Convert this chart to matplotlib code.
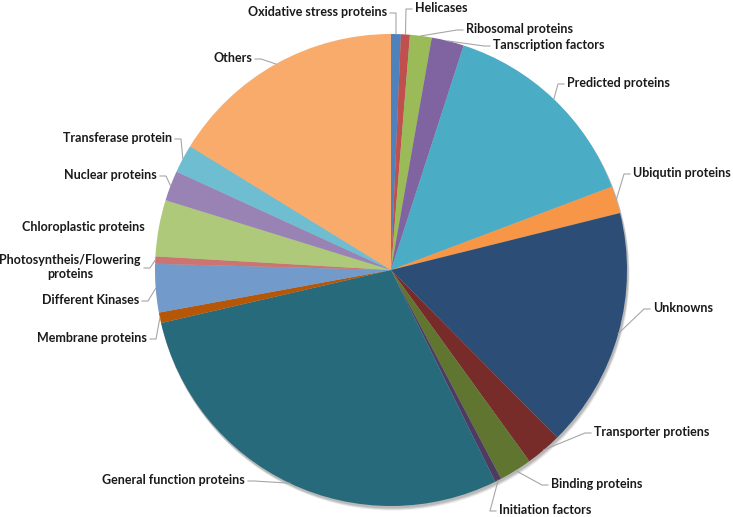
import numpy as np
import matplotlib
matplotlib.use('Agg')
import matplotlib.pyplot as plt
from matplotlib.patches import Circle

# === Данные (доли в %, по часовой стрелке от 12 часов) ===

categories = ['Oxidative stress proteins', 'Helicases', 'Ribosomal proteins',
              'Tanscription factors', 'Predicted proteins', 'Ubiqutin proteins',
              'Unknowns', 'Transporter protiens', 'Binding proteins',
              'Initiation factors', 'General function proteins', 'Membrane proteins',
              'Different Kinases', 'Photosyntheis/Flowering\nproteins',
              'Chloroplastic proteins', 'Nuclear proteins', 'Transferase protein',
              'Others']
values = [0.67, 0.61, 1.49, 2.21, 14.28, 1.86, 16.44, 2.47, 2.25, 0.44,
          28.67, 0.72, 3.31, 0.50, 3.86, 2.06, 1.94, 16.22]

colors = ['#4F81BD', '#C0504D', '#9BBB59', '#8064A2', '#4BACC6', '#F79646',
          '#2C4D75', '#772C2A', '#5F7530', '#4D3B62', '#276A7C', '#B65708',
          '#729ACA', '#CD7371', '#AFC97A', '#9983B5', '#6FBDD1', '#F9AB6B']

# Положение подписей (пиксели от левого верхнего угла), выравнивание
label_pos = [(387, 12, 'right'), (415, 8, 'left'), (466, 29, 'left'),
             (493, 45, 'left'), (567, 83, 'left'), (633, 173, 'left'),
             (653, 308, 'left'), (594, 432, 'left'), (551, 484, 'left'),
             (499, 510, 'left'), (245, 480, 'right'), (147, 338, 'right'),
             (139, 300, 'right'), (141, 267, 'right'), (145, 227, 'right'),
             (157, 175, 'right'), (172, 138, 'right'), (252, 58, 'right')]
has_leader = [True] * 18
has_leader[14] = False  # у Chloroplastic нет выноски

W, H = 733, 517
cx, cy, radius = 391, H - 270, 236

# === Построение ===

fig = plt.figure(figsize=(W / 100, H / 100), dpi=100)
ax = fig.add_axes([0, 0, 1, 1])

# лёгкая тень, как в Excel
for off, a in [(4, 0.08), (3, 0.10), (2, 0.12)]:
    ax.add_patch(Circle((cx + off * 0.5, cy - off), radius + 0.5, color='black',
                        alpha=a, lw=0, zorder=0))

wedges, _ = ax.pie(values, colors=colors, startangle=90, counterclock=False,
                   center=(cx, cy), radius=radius, frame=True,
                   wedgeprops={'linewidth': 0})
ax.set_xlim(0, W)
ax.set_ylim(0, H)
ax.set_aspect('equal')
ax.axis('off')

for w, name, (tx, ty, ha), lead in zip(wedges, categories, label_pos, has_leader):
    ty = H - ty
    ax.text(tx, ty, name, ha=ha, va='center', multialignment='center',
            fontsize=9, fontweight='bold', family='Lato', color='#1a1a1a')
    if not lead:
        continue
    mid = np.deg2rad((w.theta1 + w.theta2) / 2)
    px, py = cx + radius * np.cos(mid), cy + radius * np.sin(mid)
    sgn = -1 if ha == 'left' else 1
    x0 = tx + sgn * 3
    x1 = x0 + sgn * 6
    ax.plot([x0, x1, px], [ty - 1, ty - 1, py], color='#a6a6a6', lw=0.8)

plt.savefig('out.png', dpi=100)
